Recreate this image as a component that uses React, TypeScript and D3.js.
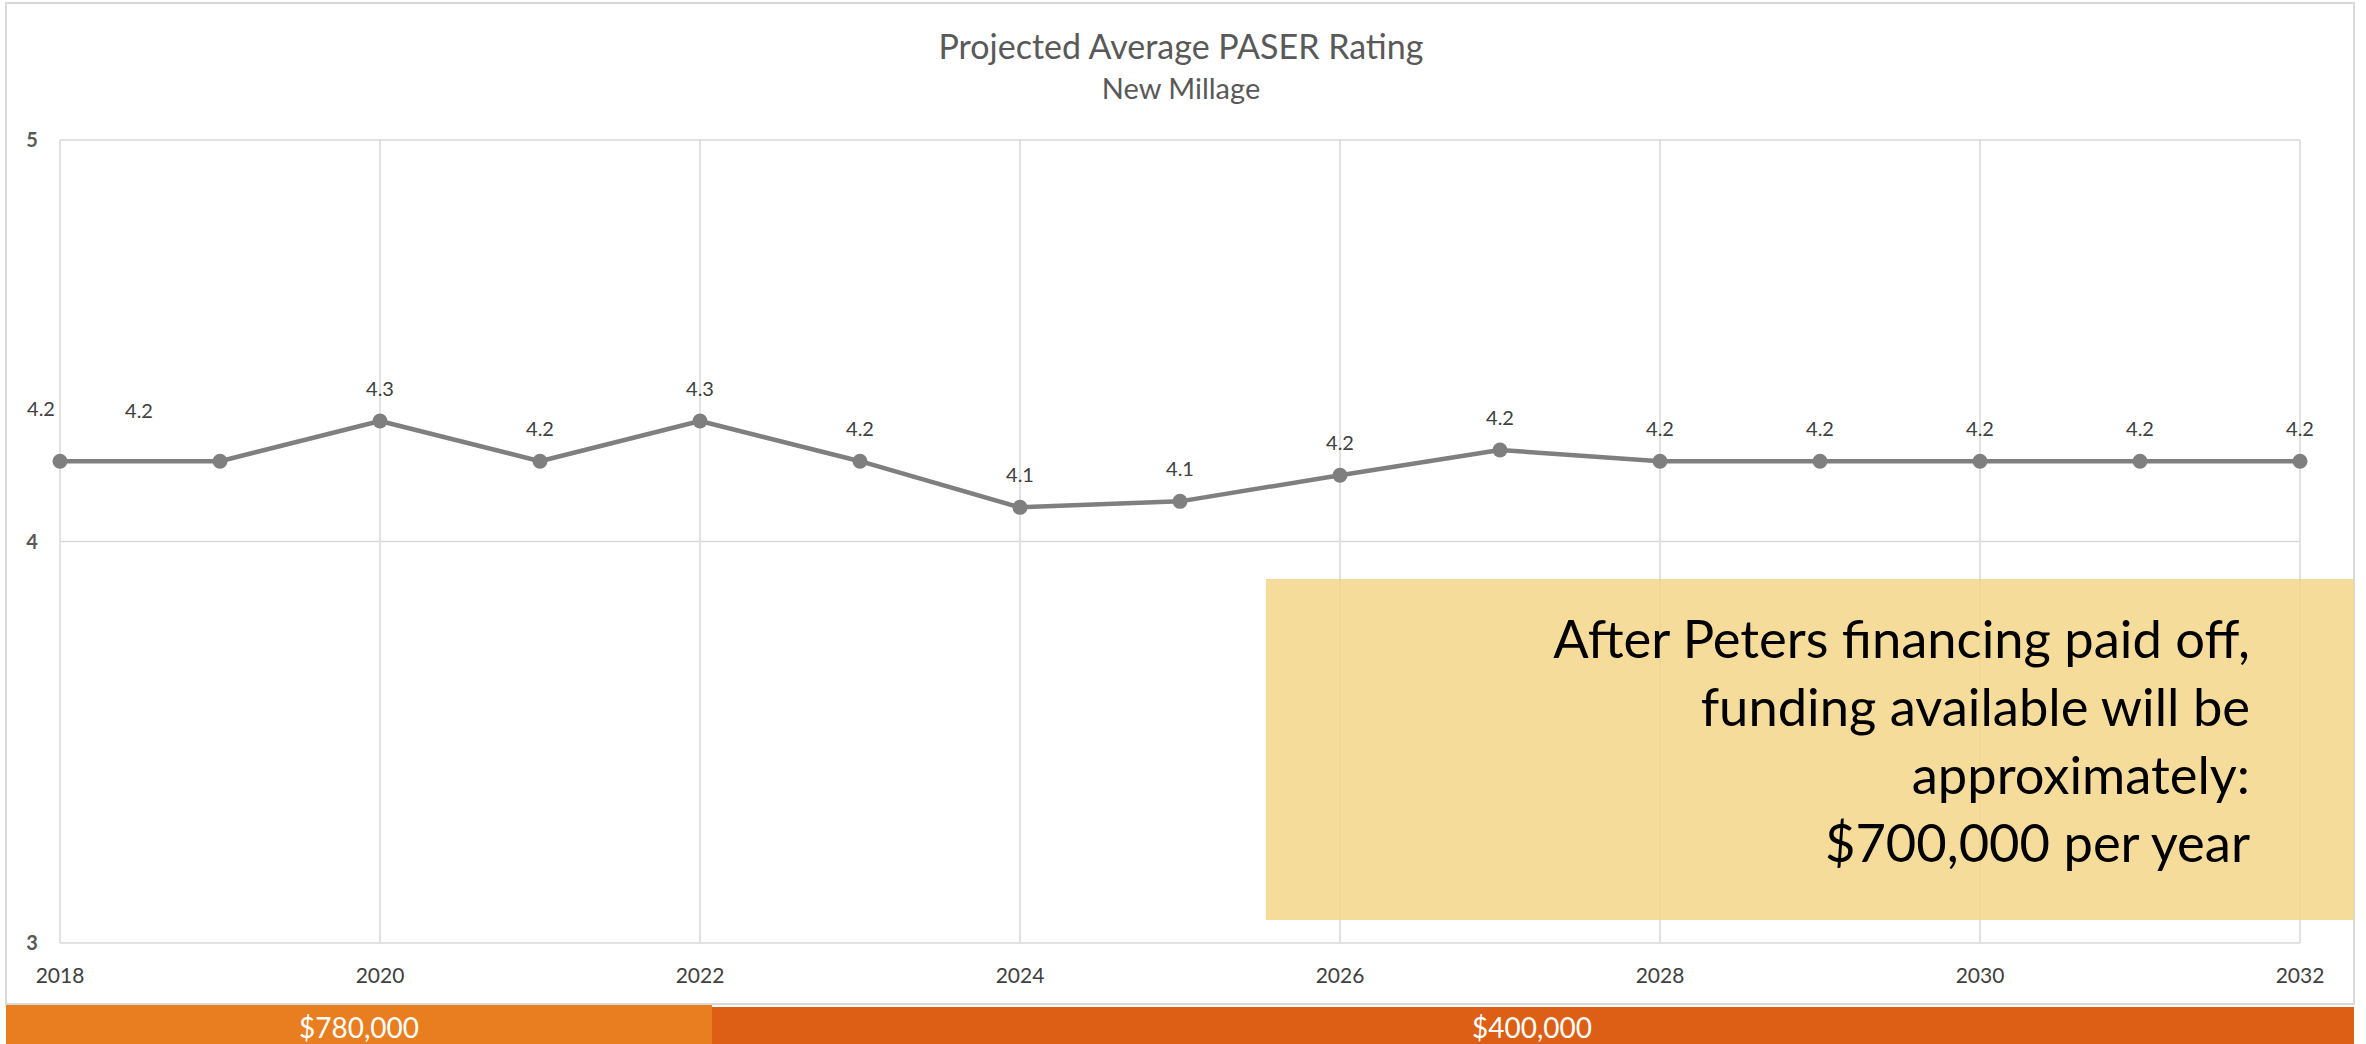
import React from 'react';
import * as d3 from 'd3';

// chart values
const years = [2018, 2019, 2020, 2021, 2022, 2023, 2024, 2025, 2026, 2027, 2028, 2029, 2030, 2031, 2032];
const rating = [4.2, 4.2, 4.3, 4.2, 4.3, 4.2, 4.085, 4.1, 4.165, 4.228, 4.2, 4.2, 4.2, 4.2, 4.2];
const xTicks = [2018, 2020, 2022, 2024, 2026, 2028, 2030, 2032];
const yTicks = [3, 4, 5];

const title = 'Projected Average PASER Rating';
const subtitle = 'New Millage';
const noteLines = ['After Peters financing paid off,', 'funding available will be', 'approximately:', '$700,000 per year'];
const bandLabels = ['$780,000', '$400,000'];
const bandColors = ['#e87e1f', '#dc5f15'];

// the first two labels sit off to the upper left in the original
const labelShift: Record<number, [number, number]> = { 2018: [-19, -20], 2019: [-81, -18] };

const W = 2366, H = 1044;
const font = 'Lato, "Open Sans", sans-serif';

export default function App() {
  const x = d3.scaleLinear().domain([2018, 2032]).range([60, 2300]);
  const y = d3.scaleLinear().domain([3, 5]).range([943, 140]);
  const pts = years.map((yr, i) => [yr, rating[i]] as [number, number]);
  const line = d3.line<[number, number]>().x(d => x(d[0])).y(d => y(d[1]));
  const fmt = d3.format('.1f');

  const split = 712;
  const bandTop = 1005;

  return (
    <svg width={W} height={H} style={{ position: 'absolute', left: 0, top: 0, background: '#fff' }}>
      <rect x={6} y={3} width={2348} height={1001} fill="#fff" stroke="#d9d9d9" strokeWidth={2} />

      <text x={1181} y={59} textAnchor="middle" fontFamily={font} fontSize={34} fill="#595959">{title}</text>
      <text x={1181} y={99} textAnchor="middle" fontFamily={font} fontSize={29} fill="#595959">{subtitle}</text>

      {/* gridlines */}
      {yTicks.map(t => (
        <line key={'h' + t} x1={x(2018)} x2={x(2032)} y1={y(t)} y2={y(t)} stroke="#d9d9d9" strokeWidth={1.5} />
      ))}
      {xTicks.map(t => (
        <line key={'v' + t} x1={x(t)} x2={x(t)} y1={y(5)} y2={y(3)} stroke="#d9d9d9" strokeWidth={1.5} />
      ))}

      {yTicks.map(t => (
        <text key={'yl' + t} x={32} y={y(t)} dy="0.36em" textAnchor="middle" fontFamily={font}
              fontSize={20} fontWeight="bold" fill="#595959">{t}</text>
      ))}
      {xTicks.map(t => (
        <text key={'xl' + t} x={x(t)} y={983} textAnchor="middle" fontFamily={font}
              fontSize={21} fill="#404040">{t}</text>
      ))}

      <path d={line(pts) || ''} fill="none" stroke="#7f7f7f" strokeWidth={4.5} strokeLinejoin="round" />
      {pts.map(d => (
        <circle key={'p' + d[0]} cx={x(d[0])} cy={y(d[1])} r={7.5} fill="#7f7f7f" />
      ))}
      {pts.map(d => {
        const s = labelShift[d[0]] || [0, 0];
        return (
          <text key={'dl' + d[0]} x={x(d[0]) + s[0]} y={y(d[1]) - 25 + s[1]} textAnchor="middle"
                fontFamily={font} fontSize={20} fill="#404040">{fmt(d[1])}</text>
        );
      })}

      {/* annotation box */}
      <rect x={1266} y={579} width={1088} height={341} fill="#f3d484" fillOpacity={0.82} />
      <text x={2250} y={658} textAnchor="end" fontFamily={font} fontSize={52.5} fill="#000">
        {noteLines.map((l, i) => (
          <tspan key={i} x={2250} dy={i === 0 ? 0 : 68}>{l}</tspan>
        ))}
      </text>

      {/* funding bands */}
      <rect x={6} y={bandTop} width={split - 6} height={H - bandTop} fill={bandColors[0]} />
      <rect x={split} y={bandTop + 2} width={2354 - split} height={H - bandTop - 2} fill={bandColors[1]} />
      <text x={(6 + split) / 2} y={1038} textAnchor="middle" fontFamily={font} fontSize={28} fill="#fff">{bandLabels[0]}</text>
      <text x={1532} y={1038} textAnchor="middle" fontFamily={font} fontSize={28} fill="#fff">{bandLabels[1]}</text>
    </svg>
  );
}
